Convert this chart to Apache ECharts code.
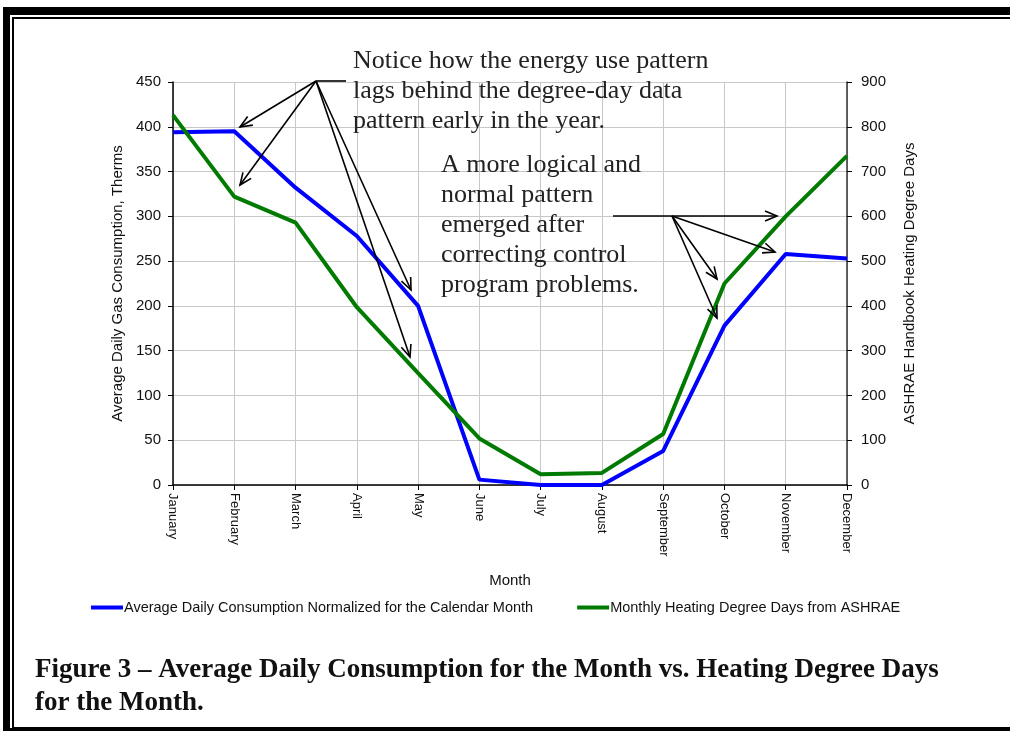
<!DOCTYPE html>
<html>
<head>
<meta charset="utf-8">
<script src="https://cdn.jsdelivr.net/npm/echarts@6/dist/echarts.min.js"></script>
<style>
  html, body { margin: 0; padding: 0; background: #fff; }
  #frameOuter { position: absolute; left: 3px; top: 7px; width: 1030px; height: 713px;
    border-top: 8px solid #000; border-left: 7px solid #000; border-bottom: 3px solid #000; }
  #frameInner { position: absolute; left: 12px; top: 17px; width: 1030px; height: 708px;
    border-top: 2px solid #000; border-left: 2px solid #000; border-bottom: 1px solid #000; }
  #main { position: absolute; left: 0; top: 0; width: 1010px; height: 731px; }
</style>
</head>
<body>
<div id="frameOuter"></div>
<div id="frameInner"></div>
<div id="main"></div>
<script>
const months = ["January", "February", "March", "April", "May", "June", "July",
  "August", "September", "October", "November", "December"];
// average daily gas use, therms (left axis)
const gasUse = [394, 395, 332, 278, 200, 6, 0, 0, 38, 178, 258, 253];
// monthly heating degree days (right axis)
const degreeDays = [826, 644, 586, 397, 250, 104, 24, 27, 114, 450, 600, 735];

const gasName = "Average Daily Consumption Normalized for the Calendar Month";
const hddName = "Monthly Heating Degree Days from ASHRAE";

const note1 = "Notice how the energy use pattern\nlags behind the degree-day data\npattern early in the year.";
const note2 = "A more logical and\nnormal pattern\nemerged after\ncorrecting control\nprogram problems.";
const caption = "Figure 3 \u2013 Average Daily Consumption for the Month vs. Heating Degree Days\nfor the Month.";

// annotation arrows: [fromX, fromY, toX, toY]
function arrow(x1, y1, x2, y2) {
  const a = Math.atan2(y2 - y1, x2 - x1);
  const len = 13, spread = 0.4;
  const p1 = [x2 - len * Math.cos(a - spread), y2 - len * Math.sin(a - spread)];
  const p2 = [x2 - len * Math.cos(a + spread), y2 - len * Math.sin(a + spread)];
  return [
    { type: "line", z: 100, shape: { x1: x1, y1: y1, x2: x2, y2: y2 }, style: { stroke: "#000", lineWidth: 1.6 } },
    { type: "polyline", z: 100, shape: { points: [p1, [x2, y2], p2] }, style: { stroke: "#000", lineWidth: 1.6, fill: null } }
  ];
}

const graphics = [].concat(
  [{ type: "line", z: 100, shape: { x1: 316, y1: 81, x2: 346, y2: 81 }, style: { stroke: "#000", lineWidth: 1.6 } }],
  arrow(316, 81, 240, 127),
  arrow(316, 81, 240, 185),
  arrow(316, 81, 411, 290),
  arrow(316, 81, 410, 357),
  arrow(613, 216, 777, 216),
  arrow(672, 216, 775, 252),
  arrow(672, 216, 717, 279),
  arrow(672, 216, 717, 318),
  [
    { type: "text", z: 100, left: 353, top: 46, style: { text: note1, font: "26px 'Liberation Serif'", lineHeight: 30, fill: "#222" } },
    { type: "text", z: 100, left: 441, top: 150, style: { text: note2, font: "26px 'Liberation Serif'", lineHeight: 30, fill: "#222" } },
    { type: "text", z: 100, left: 35, top: 654, style: { text: caption, font: "bold 27px 'Liberation Serif'", lineHeight: 33, fill: "#111" } }
  ]
);

const chart = echarts.init(document.getElementById("main"));
chart.setOption({
  animation: false,
  backgroundColor: "transparent",
  textStyle: { fontFamily: "Liberation Sans" },
  grid: { left: 173, right: 163, top: 82, bottom: 246, containLabel: false },
  legend: {
    left: 86, top: 595, itemWidth: 32, itemHeight: 4, itemGap: 44,
    icon: "rect",
    textStyle: { fontSize: 14.5, color: "#111", padding: [0, 0, 0, -4] },
    data: [gasName, hddName]
  },
  xAxis: {
    type: "category", data: months, boundaryGap: false,
    name: "Month", nameLocation: "middle", nameGap: 88,
    nameTextStyle: { fontSize: 15, color: "#111" },
    axisLine: { lineStyle: { color: "#000", width: 1.5 } },
    axisTick: { show: true, length: 5, lineStyle: { color: "#000" } },
    axisLabel: { rotate: -90, fontSize: 13, color: "#111", margin: 8, interval: 0 },
    splitLine: { show: true, lineStyle: { color: "#c8c8c8", width: 1 } }
  },
  yAxis: [
    {
      type: "value", min: 0, max: 450, interval: 50,
      name: "Average Daily Gas Consumption, Therms", nameLocation: "middle", nameGap: 48,
      nameTextStyle: { fontSize: 15, color: "#111" },
      axisLine: { show: true, lineStyle: { color: "#000", width: 1.5 } },
      axisTick: { show: true, length: 5, lineStyle: { color: "#000" } },
      axisLabel: { fontSize: 15, color: "#111", margin: 12 },
      splitLine: { show: true, lineStyle: { color: "#c8c8c8", width: 1 } }
    },
    {
      type: "value", min: 0, max: 900, interval: 100, position: "right",
      name: "ASHRAE Handbook Heating Degree Days", nameLocation: "middle", nameGap: 55,
      nameTextStyle: { fontSize: 15, color: "#111" },
      axisLine: { show: true, lineStyle: { color: "#333", width: 1.5 } },
      axisTick: { show: true, length: 5, lineStyle: { color: "#000" } },
      axisLabel: { fontSize: 15, color: "#111", margin: 14 },
      splitLine: { show: false }
    }
  ],
  series: [
    {
      name: gasName, type: "line", data: gasUse, yAxisIndex: 0,
      symbol: "none", color: "#0000ff", lineStyle: { width: 4 }
    },
    {
      name: hddName, type: "line", data: degreeDays, yAxisIndex: 1,
      symbol: "none", color: "#007a00", lineStyle: { width: 4 }
    }
  ],
  graphic: graphics
});
</script>
</body>
</html>
